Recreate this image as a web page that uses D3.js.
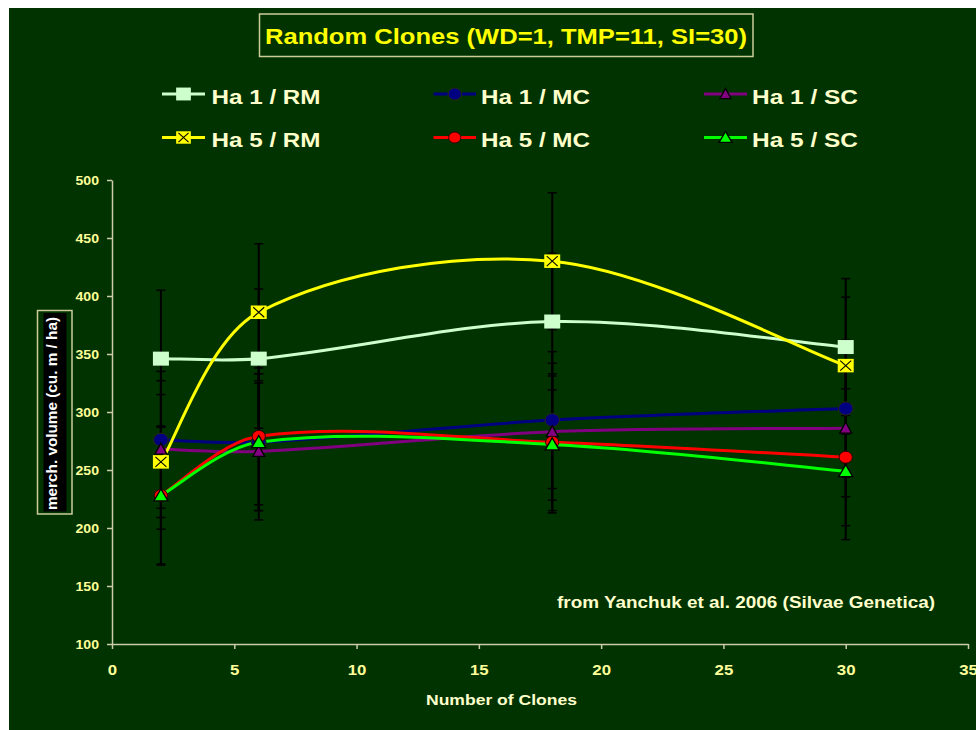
<!DOCTYPE html>
<html>
<head>
<meta charset="utf-8">
<script src="https://cdn.jsdelivr.net/npm/d3@7"></script>
<style>
  body { margin: 0; background: #ffffff; }
  svg { display: block; }
  text { font-family: "Liberation Sans", Arial, sans-serif; font-weight: bold; }
</style>
</head>
<body>
<svg id="chart" width="976" height="730"></svg>
<script>
// ---------------- DATA ----------------
const titleText = "Random Clones (WD=1, TMP=11, SI=30)";
const xLabel = "Number of Clones";
const yLabel = "merch. volume (cu. m / ha)";
const noteText = "from Yanchuk et al. 2006 (Silvae Genetica)";

const clones = [2, 6, 18, 30];
const xTicks = [0, 5, 10, 15, 20, 25, 30, 35];
const yTicks = [100, 150, 200, 250, 300, 350, 400, 450, 500];

const seriesNames = ["Ha 1 / RM", "Ha 1 / MC", "Ha 1 / SC", "Ha 5 / RM", "Ha 5 / MC", "Ha 5 / SC"];
const ha1RM = [346, 346, 378, 356];
const ha1MC = [276, 274, 293, 303];
const ha1SC = [268, 266, 283, 286];
const ha5RM = [257, 386, 430, 340];
const ha5MC = [228, 279, 274, 261];
const ha5SC = [228, 274, 272, 249];
// error bar half-widths (+/-)
const errHa1RM = [59, 60, 59, 59];
const errHa1MC = [59, 59, 59, 59];
const errHa1SC = [59, 59, 59, 59];
const errHa5RM = [58, 59, 59, 59];
const errHa5MC = [59, 59, 59, 59];
const errHa5SC = [60, 59, 59, 59];

// ---------------- STYLE ----------------
const BG = "#003300";
const AXIS = "#CCCCAA";
const series = [
  { name: seriesNames[0], values: ha1RM, err: errHa1RM, color: "#CCFFCC", marker: "square" },
  { name: seriesNames[1], values: ha1MC, err: errHa1MC, color: "#000080", marker: "circleBig" },
  { name: seriesNames[2], values: ha1SC, err: errHa1SC, color: "#800080", marker: "triSmall" },
  { name: seriesNames[3], values: ha5RM, err: errHa5RM, color: "#FFFF00", marker: "xsquare" },
  { name: seriesNames[4], values: ha5MC, err: errHa5MC, color: "#FF0000", marker: "circleSmall" },
  { name: seriesNames[5], values: ha5SC, err: errHa5SC, color: "#00FF00", marker: "triBig" }
];

const svg = d3.select("#chart");
svg.append("rect").attr("x", 9).attr("y", 8).attr("width", 967).attr("height", 722).attr("fill", BG);

const x = d3.scaleLinear().domain([0, 35]).range([112, 968]);
const y = d3.scaleLinear().domain([100, 500]).range([644, 180]);

function stretchTo(sel, w) {
  sel.attr("textLength", w).attr("lengthAdjust", "spacingAndGlyphs");
}
function stretchBy(sel, f) {
  sel.each(function () {
    const w = this.getComputedTextLength();
    d3.select(this).attr("textLength", w * f).attr("lengthAdjust", "spacingAndGlyphs");
  });
}

// Excel-like smoothed line: Bezier segments whose tangent handles are
// split between neighbouring segments in proportion to their lengths.
function ExcelSmooth(context) { this._context = context; }
ExcelSmooth.prototype = {
  areaStart() {}, areaEnd() {},
  lineStart() { this._pts = []; },
  point(px, py) { this._pts.push([+px, +py]); },
  lineEnd() {
    const p = this._pts, n = p.length, c = this._context;
    if (!n) return;
    c.moveTo(p[0][0], p[0][1]);
    const dist = (a, b) => Math.hypot(b[0] - a[0], b[1] - a[1]);
    for (let i = 0; i < n - 1; i++) {
      const p1 = p[i], p2 = p[i + 1];
      let c1, c2;
      if (i === 0) {
        c1 = [p1[0] + (p2[0] - p1[0]) / 6, p1[1] + (p2[1] - p1[1]) / 6];
      } else {
        const p0 = p[i - 1], dP = dist(p0, p1), dN = dist(p1, p2);
        const f = (1 / 3) * dN / (dP + dN);
        c1 = [p1[0] + f * (p2[0] - p0[0]), p1[1] + f * (p2[1] - p0[1])];
      }
      if (i === n - 2) {
        c2 = [p2[0] - (p2[0] - p1[0]) / 6, p2[1] - (p2[1] - p1[1]) / 6];
      } else {
        const p3 = p[i + 2], dP = dist(p1, p2), dN = dist(p2, p3);
        const f = (1 / 3) * dP / (dP + dN);
        c2 = [p2[0] - f * (p3[0] - p1[0]), p2[1] - f * (p3[1] - p1[1])];
      }
      c.bezierCurveTo(c1[0], c1[1], c2[0], c2[1], p2[0], p2[1]);
    }
  }
};
const excelSmooth = context => new ExcelSmooth(context);

// ---------------- TITLE ----------------
svg.append("rect").attr("x", 259.5).attr("y", 14).attr("width", 493.5).attr("height", 42.5)
  .attr("fill", BG).attr("stroke", "#CCCC99").attr("stroke-width", 1.5);
svg.append("text").attr("x", 506).attr("y", 43.5).attr("text-anchor", "middle")
  .attr("font-size", 21.5).attr("fill", "#FFFF00").text(titleText)
  .call(stretchTo, 482);

// ---------------- AXES ----------------
const gx = svg.append("g").attr("transform", "translate(0,644)")
  .call(d3.axisBottom(x).tickValues(xTicks).tickSize(5).tickSizeOuter(0).tickFormat(d3.format("d")));
const gy = svg.append("g").attr("transform", "translate(112,0)")
  .call(d3.axisLeft(y).tickValues(yTicks).tickSize(5).tickSizeOuter(0).tickFormat(d3.format("d")));
[gx, gy].forEach(g => {
  g.select(".domain").attr("stroke", AXIS).attr("stroke-width", 1.5);
  g.selectAll(".tick line").attr("stroke", AXIS).attr("stroke-width", 1.5);
  g.selectAll(".tick text").attr("fill", "#FFFF99").attr("font-family", null);
});
gx.selectAll(".tick text").attr("font-size", 15).attr("y", 31).attr("dy", 0).call(stretchBy, 1.12);
gy.selectAll(".tick text").attr("font-size", 13).attr("x", -13).attr("dy", "0.36em").call(stretchBy, 1.08);

// axis title
svg.append("text").attr("x", 501.5).attr("y", 705).attr("text-anchor", "middle")
  .attr("font-size", 15).attr("fill", "#FFFFCC").text(xLabel).call(stretchTo, 151);

// y label box
svg.append("rect").attr("x", 37.5).attr("y", 310.5).attr("width", 34.5).attr("height", 203.5)
  .attr("fill", BG).attr("stroke", "#CCCC99").attr("stroke-width", 1.5);
svg.append("rect").attr("x", 43.5).attr("y", 313).attr("width", 23).attr("height", 198.5).attr("fill", "#000000");
svg.append("text").attr("transform", "translate(57,413.5) rotate(-90)").attr("text-anchor", "middle")
  .attr("font-size", 15).attr("fill", "#FFFFFF").text(yLabel).call(stretchTo, 193);

// annotation
svg.append("text").attr("x", 557).attr("y", 607.5).attr("font-size", 17)
  .attr("fill", "#FFFFCC").text(noteText).call(stretchTo, 378);

// ---------------- MARKERS ----------------
function drawMarker(g, type, color, cx, cy, legend) {
  const s = legend ? 0.92 : 1;
  if (type === "square") {
    g.append("rect").attr("x", cx - 8 * s).attr("y", cy - 7 * s).attr("width", 16 * s).attr("height", 14 * s)
      .attr("fill", color);
  } else if (type === "xsquare") {
    const w = 16 * s, h = 13.5 * s;
    g.append("rect").attr("x", cx - w / 2).attr("y", cy - h / 2).attr("width", w).attr("height", h).attr("fill", color);
    g.append("path").attr("d", `M${cx - 5.5 * s},${cy - 5 * s}L${cx + 5.5 * s},${cy + 5 * s}M${cx + 5.5 * s},${cy - 5 * s}L${cx - 5.5 * s},${cy + 5 * s}`)
      .attr("stroke", "#000").attr("stroke-width", 1.1).attr("fill", "none");
  } else if (type === "circleBig") {
    g.append("ellipse").attr("cx", cx).attr("cy", cy).attr("rx", 7.3 * s).attr("ry", 6.6 * s)
      .attr("fill", color).attr("stroke", "#2a2a10").attr("stroke-width", 1);
  } else if (type === "circleSmall") {
    g.append("ellipse").attr("cx", cx).attr("cy", cy).attr("rx", 6.6 * s).attr("ry", 6 * s)
      .attr("fill", color).attr("stroke", "#300000").attr("stroke-width", 1);
  } else if (type === "triSmall" || type === "triBig") {
    const w = (type === "triBig" ? 14 : 12) * s, h = (type === "triBig" ? 12 : 11) * s;
    g.append("path").attr("d", `M${cx},${cy - h * 0.55}L${cx + w / 2},${cy + h * 0.45}L${cx - w / 2},${cy + h * 0.45}Z`)
      .attr("fill", color).attr("stroke", "#000").attr("stroke-width", 1.3).attr("stroke-linejoin", "miter");
  }
}

// ---------------- LEGEND ----------------
const legendCols = [{ x1: 162, x2: 205, tx: 211.5 }, { x1: 433.5, x2: 476, tx: 481 }, { x1: 704, x2: 747, tx: 752 }];
const legendRows = [{ ly: 94, ty: 103.5 }, { ly: 137.5, ty: 146.5 }];
const legendWidths = [109, 109, 106, 109, 109, 106];
const lg = svg.append("g");
series.forEach((s, i) => {
  const c = legendCols[i % 3], r = legendRows[Math.floor(i / 3)];
  lg.append("line").attr("x1", c.x1).attr("x2", c.x2).attr("y1", r.ly).attr("y2", r.ly)
    .attr("stroke", s.color).attr("stroke-width", 3);
  drawMarker(lg, s.marker, s.color, (c.x1 + c.x2) / 2, r.ly, true);
  lg.append("text").attr("x", c.tx).attr("y", r.ty).attr("font-size", 21).attr("fill", "#FFFFCC")
    .text(s.name).call(stretchTo, legendWidths[i]);
});

// ---------------- LINES ----------------
const line = d3.line().x(d => x(d[0])).y(d => y(d[1])).curve(excelSmooth);
const linesG = svg.append("g");
series.forEach(s => {
  linesG.append("path").datum(clones.map((c, j) => [c, s.values[j]]))
    .attr("d", line).attr("fill", "none").attr("stroke", s.color).attr("stroke-width", 3)
    .attr("stroke-linecap", "round");
});

// ---------------- ERROR BARS ----------------
const errG = svg.append("g");
series.forEach(s => {
  clones.forEach((c, j) => {
    const cx = x(c), top = y(s.values[j] + s.err[j]), bot = y(s.values[j] - s.err[j]);
    errG.append("line").attr("x1", cx).attr("x2", cx).attr("y1", top).attr("y2", bot)
      .attr("stroke", "#000").attr("stroke-width", 2);
    [top, bot].forEach(yy => errG.append("line").attr("x1", cx - 4.5).attr("x2", cx + 4.5)
      .attr("y1", yy).attr("y2", yy).attr("stroke", "#000").attr("stroke-width", 1.5));
  });
});

// ---------------- POINT MARKERS ----------------
const mG = svg.append("g");
series.forEach(s => {
  clones.forEach((c, j) => drawMarker(mG, s.marker, s.color, x(c), y(s.values[j]), false));
});
</script>
</body>
</html>
